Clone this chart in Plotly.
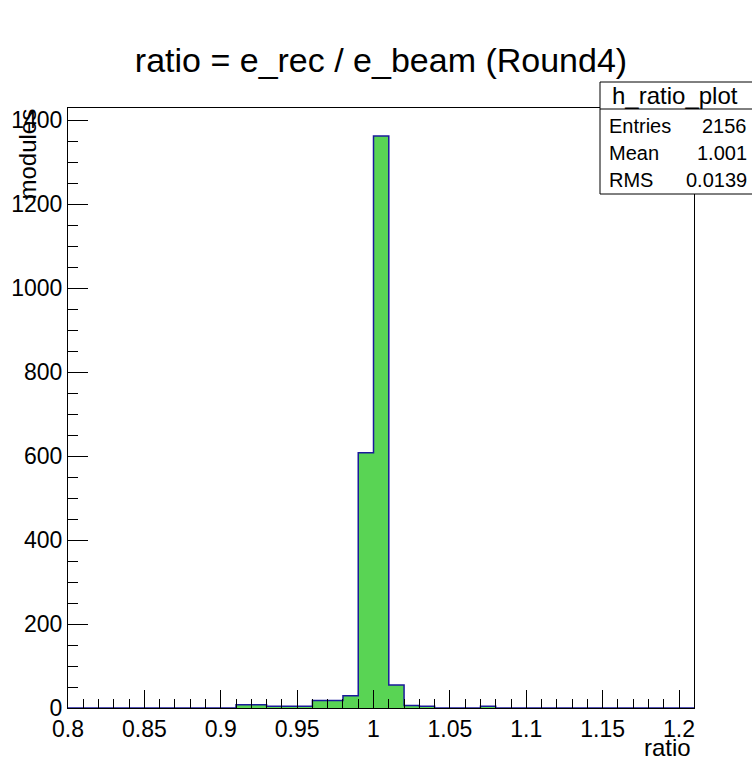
import plotly.graph_objects as go

# ---- data ----
bin_width = 0.01
bin_lows = [round(0.80 + 0.01 * i, 2) for i in range(41)]
counts = [0, 0, 0, 0, 0, 0, 0, 0, 0, 0,      # 0.80 - 0.89
          0, 8, 8, 4, 4, 4, 18, 18, 29, 608,   # 0.90 - 0.99
          1362, 55, 6, 4, 0, 0, 0, 4, 0, 0,    # 1.00 - 1.09
          0, 0, 0, 0, 0, 0, 0, 0, 0, 0,        # 1.10 - 1.19
          0]                                    # 1.20
x_tick_vals = [0.8, 0.85, 0.9, 0.95, 1.0, 1.05, 1.1, 1.15, 1.2]
x_tick_text = ["0.8", "0.85", "0.9", "0.95", "1", "1.05", "1.1", "1.15", "1.2"]
title_text = "ratio = e_rec / e_beam (Round4)"
stats_name = "h_ratio_plot"
stats_labels = ["Entries", "Mean", "RMS"]
stats_values = ["2156", "1.001", "0.0139"]

FONT = "Liberation Sans, Arial, Helvetica, sans-serif"
FILL = "#59d454"
LINE = "#1a1a9a"

centers = [b + bin_width / 2 for b in bin_lows]
edges = bin_lows + [round(bin_lows[-1] + bin_width, 2)]

fig = go.Figure()
fig.add_trace(go.Bar(x=centers, y=counts, width=bin_width,
                     marker=dict(color=FILL, line=dict(width=0)),
                     hoverinfo="skip", showlegend=False))
step_x = [edges[0]] + edges
step_y = [0] + counts + [counts[-1]]
fig.add_trace(go.Scatter(x=step_x, y=step_y, mode="lines",
                         line=dict(color=LINE, width=1.5, shape="hv"),
                         hoverinfo="skip", showlegend=False))

W, H = 752, 761
L, R, T, B = 68, 694, 108, 708
pw, ph = R - L, B - T

def px(x):
    return (x - L) / pw

def py(y):
    return (B - y) / ph

fig.update_layout(
    width=W, height=H,
    margin=dict(l=L, r=W - R, t=T, b=H - B),
    paper_bgcolor="white", plot_bgcolor="white",
    bargap=0,
    font=dict(family=FONT, color="black"),
    title=dict(text=title_text, x=381 / W, xanchor="center",
               y=1 - 60 / H, yanchor="middle", yref="container",
               font=dict(size=34, family=FONT, color="black")),
)
fig.update_xaxes(range=[0.8, 1.2098], tickvals=x_tick_vals, ticktext=x_tick_text,
                 ticks="inside", ticklen=18, tickwidth=1, tickcolor="black",
                 minor=dict(dtick=0.01, tick0=0.8, ticks="inside", ticklen=9,
                            tickwidth=1, tickcolor="black"),
                 showline=True, linecolor="black", linewidth=1, mirror=True,
                 showgrid=False, zeroline=False,
                 tickfont=dict(size=23, family=FONT, color="black"))
fig.update_yaxes(range=[0, 1428.6], dtick=200, tick0=0,
                 ticks="inside", ticklen=20, tickwidth=1, tickcolor="black",
                 minor=dict(dtick=50, ticks="inside", ticklen=10,
                            tickwidth=1, tickcolor="black"),
                 showline=True, linecolor="black", linewidth=1, mirror=True,
                 showgrid=False, zeroline=False,
                 tickfont=dict(size=23, family=FONT, color="black"))

# axis titles (ROOT style: at the end of the axes)
fig.add_annotation(text="ratio", xref="paper", yref="paper",
                   x=px(693), y=py(747), xanchor="right", yanchor="middle",
                   showarrow=False, font=dict(size=24, family=FONT, color="black"))
fig.add_annotation(text="modules", xref="paper", yref="paper",
                   x=px(27), y=py(107), xanchor="center", yanchor="top",
                   textangle=-90, showarrow=False,
                   font=dict(size=24, family=FONT, color="black"))

# stats box
fig.add_shape(type="rect", xref="paper", yref="paper",
              x0=px(600), x1=px(770), y0=py(194), y1=py(82),
              line=dict(color="black", width=1), fillcolor="white", layer="above")
fig.add_shape(type="line", xref="paper", yref="paper",
              x0=px(600), x1=px(770), y0=py(109), y1=py(109),
              line=dict(color="black", width=1), layer="above")
fig.add_annotation(text=stats_name, xref="paper", yref="paper",
                   x=px(675), y=py(96), xanchor="center", yanchor="middle",
                   showarrow=False, font=dict(size=24, family=FONT, color="black"))
rows_y = [126, 153, 180]
for lab, val, yy in zip(stats_labels, stats_values, rows_y):
    fig.add_annotation(text=lab, xref="paper", yref="paper",
                       x=px(607), y=py(yy), xanchor="left", yanchor="middle",
                       showarrow=False, font=dict(size=20, family=FONT, color="black"))
    fig.add_annotation(text=val, xref="paper", yref="paper",
                       x=px(749), y=py(yy), xanchor="right", yanchor="middle",
                       showarrow=False, font=dict(size=20, family=FONT, color="black"))

fig.write_html("out.html",
               config={"displayModeBar": False},
               post_script="document.body.style.margin='0';"
                           "document.body.style.overflow='hidden';")
